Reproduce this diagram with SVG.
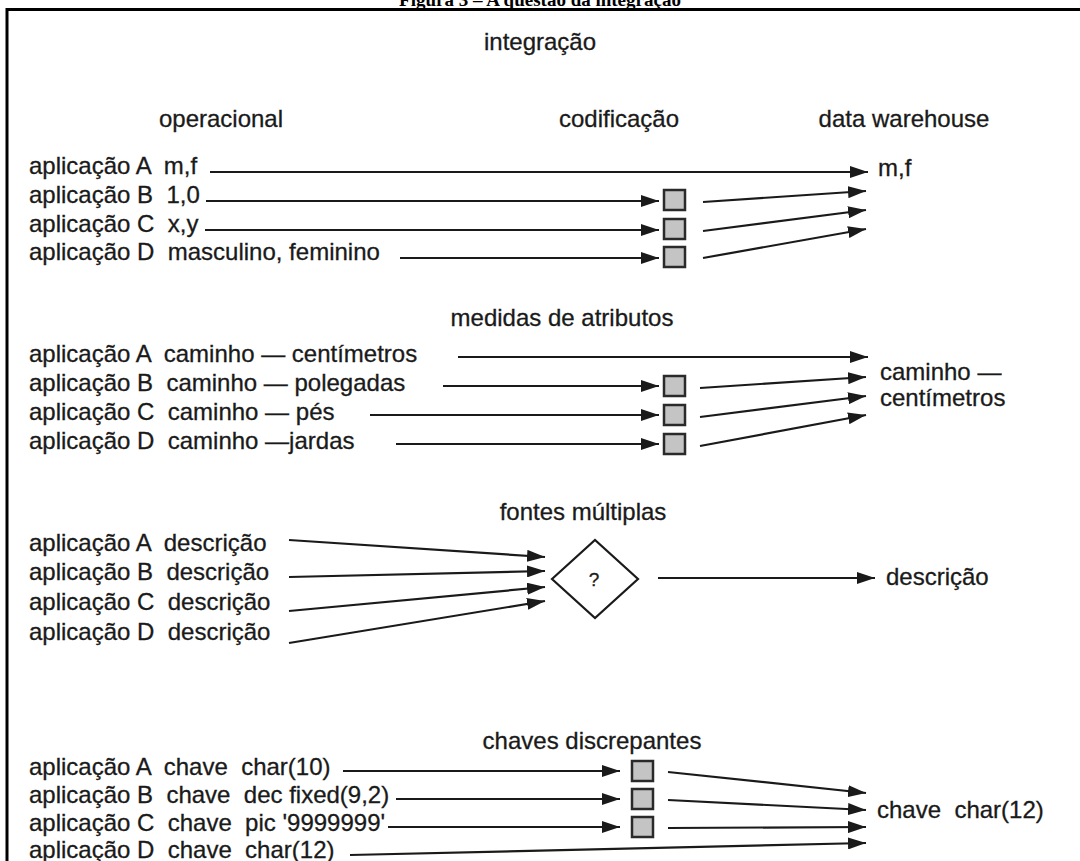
<svg xmlns="http://www.w3.org/2000/svg" width="1080" height="861" viewBox="0 0 1080 861">
  <style>
    .t { font-family: "Liberation Sans", Arial, sans-serif; font-size: 24px; fill: #1a1a1a; stroke: #1a1a1a; stroke-width: 0.3px; white-space: pre; }
    .m { text-anchor: middle; }
    .ttl { font-family: "Liberation Serif", "Times New Roman", serif; font-size: 19px; font-weight: bold; fill: #000; text-anchor: middle; }
    .ln { stroke: #1a1a1a; stroke-width: 2.2; fill: none; marker-end: url(#ah); }
    .box { fill: #c4c4c4; stroke: #2a2a2a; stroke-width: 2.5; }
    .dia { fill: #fff; stroke: #1a1a1a; stroke-width: 2.2; }
    .frame { stroke: #000; stroke-width: 3; fill: none; }
  </style>
  <defs>
    <marker id="ah" markerUnits="userSpaceOnUse" markerWidth="18" markerHeight="12" refX="18" refY="6" orient="auto">
      <path d="M0,0 L18,6 L0,12 z" fill="#1a1a1a"/>
    </marker>
    <clipPath id="topclip"><rect x="0" y="0" width="1080" height="8"/></clipPath>
  </defs>
  <rect width="1080" height="861" fill="#fff"/>

  <!-- caption, trimmed by the frame -->
  <text class="ttl" x="540" y="6" clip-path="url(#topclip)">Figura 3 – A questão da integração</text>
  <path class="frame" d="M7,861 V9.5 H1080"/>

  <!-- column headers -->
  <g id="headers">
    <text class="t m" x="540" y="50">integração</text>
    <text class="t m" x="221" y="127">operacional</text>
    <text class="t m" x="619" y="127">codificação</text>
    <text class="t m" x="904" y="127">data warehouse</text>
  </g>

  <!-- section 1: coding -->
  <g id="cod-sources">
    <text class="t" x="29" y="174">aplicação A  m,f</text>
    <text class="t" x="29" y="203">aplicação B  1,0</text>
    <text class="t" x="29" y="232">aplicação C  x,y</text>
    <text class="t" x="29" y="260">aplicação D  masculino, feminino</text>
  </g>
  <g id="cod-converters">
    <rect class="box" x="664" y="190" width="21" height="20"/>
    <rect class="box" x="664" y="219" width="21" height="20"/>
    <rect class="box" x="664" y="247" width="21" height="20"/>
  </g>
  <g id="cod-target">
    <text class="t" x="878" y="176">m,f</text>
  </g>

  <!-- section 2: attribute measures -->
  <text class="t m" x="562" y="326">medidas de atributos</text>
  <g id="med-sources">
    <text class="t" x="29" y="362">aplicação A  caminho — centímetros</text>
    <text class="t" x="29" y="391">aplicação B  caminho — polegadas</text>
    <text class="t" x="29" y="420">aplicação C  caminho — pés</text>
    <text class="t" x="29" y="449">aplicação D  caminho —jardas</text>
  </g>
  <g id="med-converters">
    <rect class="box" x="664" y="376" width="21" height="20"/>
    <rect class="box" x="664" y="405" width="21" height="20"/>
    <rect class="box" x="664" y="434" width="21" height="20"/>
  </g>
  <g id="med-target">
    <text class="t" x="880" y="380">caminho —</text>
    <text class="t" x="880" y="406">centímetros</text>
  </g>

  <!-- section 3: multiple sources -->
  <text class="t m" x="583" y="520">fontes múltiplas</text>
  <g id="src-sources">
    <text class="t" x="29" y="551">aplicação A  descrição</text>
    <text class="t" x="29" y="580">aplicação B  descrição</text>
    <text class="t" x="29" y="610">aplicação C  descrição</text>
    <text class="t" x="29" y="640">aplicação D  descrição</text>
  </g>
  <g id="src-choice">
    <polygon class="dia" points="552,579 595,540 638,579 595,618"/>
    <text class="t m" x="594" y="586" style="font-size:19px">?</text>
  </g>
  <g id="src-target">
    <text class="t" x="886" y="585">descrição</text>
  </g>

  <!-- section 4: mismatched keys -->
  <text class="t m" x="592" y="749">chaves discrepantes</text>
  <g id="key-sources">
    <text class="t" x="29" y="775">aplicação A  chave  char(10)</text>
    <text class="t" x="29" y="803">aplicação B  chave  dec fixed(9,2)</text>
    <text class="t" x="29" y="831">aplicação C  chave  pic '9999999'</text>
    <text class="t" x="29" y="858">aplicação D  chave  char(12)</text>
  </g>
  <g id="key-converters">
    <rect class="box" x="632" y="761" width="21" height="20"/>
    <rect class="box" x="632" y="789" width="21" height="20"/>
    <rect class="box" x="632" y="817" width="21" height="20"/>
  </g>
  <g id="key-target">
    <text class="t" x="877" y="818">chave  char(12)</text>
  </g>

  <!-- connectors -->
  <g id="connectors">
    <line class="ln" x1="210" y1="172" x2="868" y2="172"/>
    <line class="ln" x1="206" y1="201" x2="659" y2="201"/>
    <line class="ln" x1="205" y1="230" x2="659" y2="230"/>
    <line class="ln" x1="400" y1="258" x2="659" y2="258"/>
    <line class="ln" x1="703" y1="202" x2="866" y2="191"/>
    <line class="ln" x1="703" y1="231" x2="866" y2="210"/>
    <line class="ln" x1="703" y1="258" x2="866" y2="229"/>

    <line class="ln" x1="458" y1="357" x2="868" y2="357"/>
    <line class="ln" x1="443" y1="386" x2="659" y2="386"/>
    <line class="ln" x1="370" y1="415" x2="659" y2="415"/>
    <line class="ln" x1="396" y1="444" x2="659" y2="444"/>
    <line class="ln" x1="700" y1="388" x2="866" y2="377"/>
    <line class="ln" x1="700" y1="417" x2="866" y2="396"/>
    <line class="ln" x1="700" y1="446" x2="866" y2="415"/>

    <line class="ln" x1="289" y1="540" x2="545" y2="557"/>
    <line class="ln" x1="289" y1="577" x2="545" y2="571"/>
    <line class="ln" x1="289" y1="611" x2="545" y2="587"/>
    <line class="ln" x1="289" y1="643" x2="545" y2="601"/>
    <line class="ln" x1="658" y1="578" x2="875" y2="578"/>

    <line class="ln" x1="343" y1="771" x2="620" y2="771"/>
    <line class="ln" x1="396" y1="799" x2="620" y2="799"/>
    <line class="ln" x1="388" y1="827" x2="620" y2="827"/>
    <line class="ln" x1="350" y1="855" x2="866" y2="843"/>
    <line class="ln" x1="668" y1="772" x2="866" y2="793"/>
    <line class="ln" x1="668" y1="800" x2="866" y2="810"/>
    <line class="ln" x1="668" y1="828" x2="866" y2="827"/>
  </g>
</svg>
